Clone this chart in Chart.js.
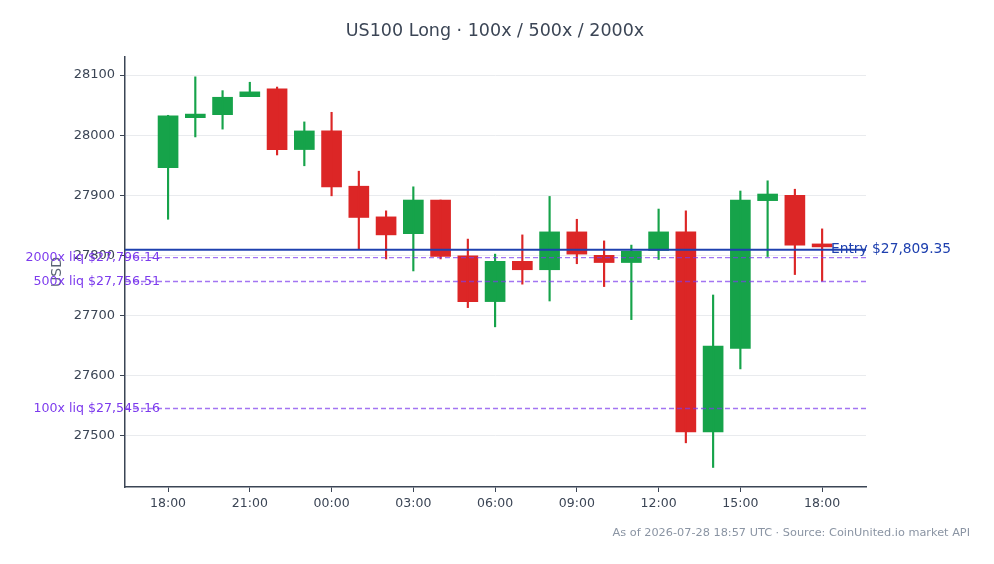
<!DOCTYPE html>
<html>
<head>
<meta charset="utf-8">
<script src="https://cdn.jsdelivr.net/npm/chart.js@4.4.1/dist/chart.umd.min.js"></script>
<style>
    html, body { margin: 0; padding: 0; background: #ffffff; }
    #wrap { width: 994px; height: 564px; }
</style>
</head>
<body>
<div id="wrap"><canvas id="candles" width="994" height="564"></canvas></div>
<script>
// hourly candles, 18:00 -> 18:00 next day
const candleTimes = ['18:00', '19:00', '20:00', '21:00', '22:00', '23:00', '00:00', '01:00', '02:00',
    '03:00', '04:00', '05:00', '06:00', '07:00', '08:00', '09:00', '10:00', '11:00', '12:00',
    '13:00', '14:00', '15:00', '16:00', '17:00', '18:00'];
const opens  = [27946, 28029, 28034, 28064, 28077, 27976, 28007, 27915, 27864, 27836, 27892, 27799, 27723,
    27790, 27776, 27839, 27800, 27788, 27808, 27839, 27506, 27645, 27891, 27900, 27817];
const highs  = [28033, 28097, 28074, 28088, 28080, 28022, 28038, 27940, 27874, 27914, 27892, 27827, 27802,
    27834, 27898, 27860, 27824, 27817, 27877, 27874, 27734, 27907, 27924, 27910, 27844];
const lows   = [27860, 27997, 28010, 28064, 27967, 27949, 27899, 27811, 27794, 27774, 27794, 27713, 27681,
    27752, 27724, 27786, 27748, 27693, 27793, 27488, 27447, 27611, 27798, 27768, 27757];
const closes = [28032, 28035, 28063, 28072, 27976, 28007, 27914, 27863, 27834, 27892, 27798, 27723, 27790,
    27776, 27839, 27802, 27788, 27807, 27839, 27506, 27649, 27892, 27902, 27817, 27814];

const xTickIndexes = [0, 3, 6, 9, 12, 15, 18, 21, 24];
const yTicks = [27500, 27600, 27700, 27800, 27900, 28000, 28100];

const entryPrice = 27809.35;
const liqLabels = ['2000x liq', '500x liq', '100x liq'];
const liqPrices = [27796.14, 27756.51, 27545.16];

const UP = '#16a34a';
const DOWN = '#dc2626';
const INK = '#3b4555';
const FONT = "'DejaVu Sans', sans-serif";

const candleColors = opens.map((o, i) => closes[i] >= o ? UP : DOWN);
const fmtUsd = v => '$' + v.toLocaleString('en-US', { minimumFractionDigits: 2, maximumFractionDigits: 2 });

// title, entry / liquidation levels, footer
const levelsPlugin = {
    id: 'levels',
    afterDatasetsDraw(chart) {
        const { ctx, chartArea, scales, width } = chart;
        const y = scales.y;
        ctx.save();

        ctx.setLineDash([5, 3]);
        ctx.lineWidth = 1.4;
        ctx.strokeStyle = 'rgba(124, 58, 237, 0.7)';
        ctx.font = '12.6px ' + FONT;
        ctx.textAlign = 'right';
        ctx.textBaseline = 'middle';
        liqPrices.forEach((p, i) => {
            const py = y.getPixelForValue(p);
            ctx.beginPath();
            ctx.moveTo(chartArea.left, py);
            ctx.lineTo(chartArea.right, py);
            ctx.stroke();
            ctx.fillStyle = '#7c3aed';
            ctx.fillText(liqLabels[i] + ' ' + fmtUsd(p), chartArea.left + 35, py);
        });

        ctx.setLineDash([]);
        const ey = y.getPixelForValue(entryPrice);
        ctx.lineWidth = 2;
        ctx.strokeStyle = '#1e40af';
        ctx.beginPath();
        ctx.moveTo(chartArea.left, ey);
        ctx.lineTo(chartArea.right, ey);
        ctx.stroke();
        ctx.fillStyle = '#1e40af';
        ctx.textAlign = 'left';
        ctx.font = '13.8px ' + FONT;
        ctx.fillText('Entry ' + fmtUsd(entryPrice), chartArea.right - 35, ey);

        ctx.font = '17.5px ' + FONT;
        ctx.fillStyle = INK;
        ctx.textAlign = 'center';
        ctx.fillText('US100 Long \u00b7 100x / 500x / 2000x', width / 2 - 2, 31);

        ctx.font = '11.3px ' + FONT;
        ctx.fillStyle = '#8a94a3';
        ctx.textAlign = 'right';
        ctx.fillText('As of 2026-07-28 18:57 UTC \u00b7 Source: CoinUnited.io market API', 970, 533);
        ctx.restore();
    }
};

new Chart('candles', {
    type: 'bar',
    data: {
        datasets: [{
            label: 'wick',
            data: candleTimes.map((t, i) => ({ x: i, y: [lows[i], highs[i]] })),
            backgroundColor: candleColors,
            barThickness: 1.5,
            grouped: false
        }, {
            label: 'body',
            data: candleTimes.map((t, i) => ({ x: i, y: [opens[i], closes[i]] })),
            backgroundColor: candleColors,
            barThickness: 20,
            minBarLength: 3,
            grouped: false
        }]
    },
    plugins: [levelsPlugin],
    options: {
        responsive: false,
        animation: false,
        layout: { padding: { left: 40, right: 128, top: 57, bottom: 0 } },
        plugins: {
            legend: { display: false },
            tooltip: { enabled: false },
            title: { display: false }
        },
        scales: {
            x: {
                type: 'linear',
                offset: false,
                min: -1.58,
                max: 25.61,
                afterFit: scale => { scale.height = 77; },
                afterBuildTicks: scale => { scale.ticks = xTickIndexes.map(v => ({ value: v })); },
                ticks: {
                    color: INK,
                    font: { family: FONT, size: 12.5 },
                    maxRotation: 0,
                    padding: 4,
                    callback: v => candleTimes[v]
                },
                grid: { offset: false, drawOnChartArea: false, tickLength: 5, tickColor: INK },
                border: { color: INK, width: 1.5 }
            },
            y: {
                min: 27414.5,
                max: 28130,
                afterFit: scale => { scale.width = 85; },
                afterBuildTicks: scale => { scale.ticks = yTicks.map(v => ({ value: v })); },
                ticks: {
                    color: INK,
                    font: { family: FONT, size: 13 },
                    padding: 5,
                    callback: v => String(v)
                },
                grid: { color: '#e9ebee', tickLength: 5, tickColor: INK },
                border: { color: INK, width: 1.5 },
                title: {
                    display: true,
                    text: 'USD',
                    color: '#5a6474',
                    font: { family: FONT, size: 14 },
                    padding: { top: 9 }
                }
            }
        }
    }
});
</script>
</body>
</html>
